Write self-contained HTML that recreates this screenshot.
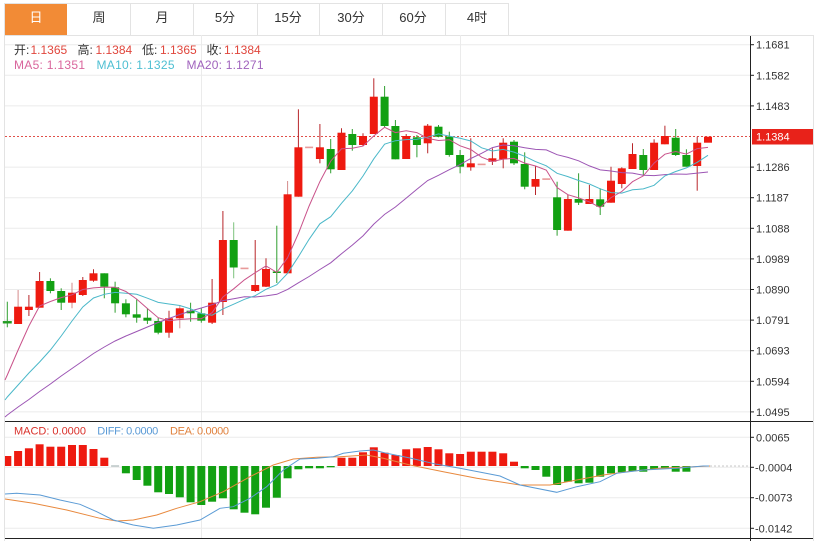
<!DOCTYPE html>
<html><head><meta charset="utf-8"><style>
html,body{margin:0;padding:0;background:#fff;}
svg{display:block;}
text{font-family:"Liberation Sans","Noto Sans CJK SC",sans-serif;}
</style></head><body>
<svg width="822" height="541" viewBox="0 0 822 541" xmlns="http://www.w3.org/2000/svg">
<rect x="0" y="0" width="822" height="541" fill="#fff"/>
<!-- tabs -->
<rect x="5" y="3" width="62" height="32" fill="#f28b36"/>
<g stroke="#e3e3e3" stroke-width="1">
<line x1="5" y1="3.5" x2="508" y2="3.5"/>
<line x1="130.5" y1="3" x2="130.5" y2="35"/>
<line x1="193.5" y1="3" x2="193.5" y2="35"/>
<line x1="257.5" y1="3" x2="257.5" y2="35"/>
<line x1="319.5" y1="3" x2="319.5" y2="35"/>
<line x1="382.5" y1="3" x2="382.5" y2="35"/>
<line x1="445.5" y1="3" x2="445.5" y2="35"/>
<line x1="508.5" y1="3" x2="508.5" y2="35"/>
<line x1="5" y1="35.5" x2="813" y2="35.5"/>
<line x1="4.5" y1="3" x2="4.5" y2="541"/>
<line x1="813.5" y1="35" x2="813.5" y2="541"/>
</g>
<g font-size="13" text-anchor="middle" fill="#333">
<text x="36" y="22" fill="#fff">日</text>
<text x="99" y="22">周</text>
<text x="162" y="22">月</text>
<text x="225" y="22">5分</text>
<text x="288" y="22">15分</text>
<text x="351" y="22">30分</text>
<text x="413" y="22">60分</text>
<text x="477" y="22">4时</text>
</g>
<!-- grid -->
<g stroke="#ebebeb" stroke-width="1">
<line x1="5" y1="44.7" x2="750" y2="44.7"/>
<line x1="5" y1="75.3" x2="750" y2="75.3"/>
<line x1="5" y1="105.9" x2="750" y2="105.9"/>
<line x1="5" y1="167.1" x2="750" y2="167.1"/>
<line x1="5" y1="197.7" x2="750" y2="197.7"/>
<line x1="5" y1="228.3" x2="750" y2="228.3"/>
<line x1="5" y1="258.9" x2="750" y2="258.9"/>
<line x1="5" y1="289.5" x2="750" y2="289.5"/>
<line x1="5" y1="320.1" x2="750" y2="320.1"/>
<line x1="5" y1="350.7" x2="750" y2="350.7"/>
<line x1="5" y1="381.3" x2="750" y2="381.3"/>
<line x1="5" y1="411.9" x2="750" y2="411.9"/>
<line x1="5" y1="437.3" x2="750" y2="437.3"/>
<line x1="5" y1="467.3" x2="750" y2="467.3"/>
<line x1="5" y1="497.7" x2="750" y2="497.7"/>
<line x1="5" y1="528.3" x2="750" y2="528.3"/>
<line x1="201.5" y1="35" x2="201.5" y2="538"/>
<line x1="460.5" y1="35" x2="460.5" y2="538"/>
</g>
<!-- dark frame lines -->
<g stroke="#222" stroke-width="1">
<line x1="5" y1="421.5" x2="813" y2="421.5"/>
<line x1="5" y1="538.5" x2="813" y2="538.5"/>
<line x1="750.5" y1="36" x2="750.5" y2="541"/>
</g>
<!-- last price dotted line -->
<line x1="5" y1="136.5" x2="750" y2="136.5" stroke="#e0504a" stroke-width="1" stroke-dasharray="2,2"/>
<!-- candles -->
<g stroke-width="1">
<g stroke="#2f9e2f" fill="#12a012">
<line x1="7.3" y1="301.7" x2="7.3" y2="327.3"/><rect x="3.3" y="321.5" width="8" height="1.5"/>
<line x1="50.4" y1="278.3" x2="50.4" y2="293.3"/><rect x="46.4" y="281" width="8" height="10" stroke="none"/>
<line x1="61.2" y1="288.3" x2="61.2" y2="310"/><rect x="57.2" y="291" width="8" height="11.7" stroke="none"/>
<line x1="104.3" y1="273.3" x2="104.3" y2="298.3"/><rect x="100.3" y="273.3" width="8" height="13.4" stroke="none"/>
<line x1="115.1" y1="281.7" x2="115.1" y2="312.7"/><rect x="111.1" y="287.3" width="8" height="16" stroke="none"/>
<line x1="125.9" y1="299.3" x2="125.9" y2="317.3"/><rect x="121.9" y="303.3" width="8" height="11" stroke="none"/>
<line x1="136.7" y1="299.3" x2="136.7" y2="322.7"/><rect x="132.7" y="314.3" width="8" height="3.4" stroke="none"/>
<line x1="147.4" y1="308.3" x2="147.4" y2="324"/><rect x="143.4" y="317.7" width="8" height="3" stroke="none"/>
<line x1="158.2" y1="317.7" x2="158.2" y2="334.3"/><rect x="154.2" y="321" width="8" height="11.7" stroke="none"/>
<line x1="190.6" y1="302.7" x2="190.6" y2="321.7"/><rect x="186.6" y="310.7" width="8" height="2.6" stroke="none"/>
<line x1="201.3" y1="308.3" x2="201.3" y2="322.7"/><rect x="197.3" y="313.3" width="8" height="7.4" stroke="none"/>
<line x1="233.7" y1="222.3" x2="233.7" y2="278.3" stroke="#7cc27c"/><rect x="229.7" y="240" width="8" height="27.5" stroke="none"/>
<line x1="276.8" y1="225.7" x2="276.8" y2="283"/><rect x="272.8" y="271.5" width="8" height="1.5" stroke="none"/>
<line x1="330.7" y1="139" x2="330.7" y2="173.3"/><rect x="326.7" y="149" width="8" height="20.3" stroke="none"/>
<line x1="352.3" y1="129" x2="352.3" y2="150.7"/><rect x="348.3" y="134" width="8" height="11" stroke="none"/>
<line x1="384.6" y1="86" x2="384.6" y2="127.3"/><rect x="380.6" y="96.7" width="8" height="29.3" stroke="none"/>
<line x1="395.4" y1="120" x2="395.4" y2="159.3"/><rect x="391.4" y="126" width="8" height="33.3" stroke="none"/>
<line x1="416.9" y1="135" x2="416.9" y2="157.3"/><rect x="412.9" y="137.3" width="8" height="7.7" stroke="none"/>
<line x1="438.5" y1="125" x2="438.5" y2="137.3"/><rect x="434.5" y="126.7" width="8" height="10" stroke="none"/>
<line x1="449.3" y1="131.7" x2="449.3" y2="156.7"/><rect x="445.3" y="136.7" width="8" height="18.3" stroke="none"/>
<line x1="460.1" y1="150" x2="460.1" y2="173.3"/><rect x="456.1" y="155" width="8" height="11.7" stroke="none"/>
<line x1="514" y1="140" x2="514" y2="165"/><rect x="510" y="141.7" width="8" height="21.6" stroke="none"/>
<line x1="524.7" y1="152.3" x2="524.7" y2="189.3"/><rect x="520.7" y="164" width="8" height="22.7" stroke="none"/>
<line x1="557.1" y1="181.7" x2="557.1" y2="235.7"/><rect x="553.1" y="197.3" width="8" height="32.7" stroke="none"/>
<line x1="578.6" y1="173.3" x2="578.6" y2="205"/><rect x="574.6" y="199" width="8" height="3.7" stroke="none"/>
<line x1="600.2" y1="188.3" x2="600.2" y2="215"/><rect x="596.2" y="199.3" width="8" height="7.4" stroke="none"/>
<line x1="643.3" y1="149" x2="643.3" y2="175"/><rect x="639.3" y="155" width="8" height="15" stroke="none"/>
<line x1="675.7" y1="129" x2="675.7" y2="156"/><rect x="671.7" y="137.7" width="8" height="17.3" stroke="none"/>
<line x1="686.4" y1="149.3" x2="686.4" y2="166.7"/><rect x="682.4" y="155" width="8" height="11.7" stroke="none"/>
</g>
<g stroke="#b8262a" fill="#ee1a10">
<line x1="18.1" y1="290" x2="18.1" y2="324" stroke="#d48a8a"/><rect x="14.1" y="306.7" width="8" height="17.3" stroke="none"/>
<line x1="28.9" y1="295" x2="28.9" y2="316"/><rect x="24.9" y="306.7" width="8" height="3.3" stroke="none"/>
<line x1="39.6" y1="272" x2="39.6" y2="307.7"/><rect x="35.6" y="281" width="8" height="26.7" stroke="none"/>
<line x1="72" y1="282.7" x2="72" y2="308.3" stroke="#d48a8a"/><rect x="68" y="292.7" width="8" height="10" stroke="none"/>
<line x1="82.8" y1="277" x2="82.8" y2="296"/><rect x="78.8" y="280" width="8" height="15" stroke="none"/>
<line x1="93.5" y1="269.3" x2="93.5" y2="281.7"/><rect x="89.5" y="273.3" width="8" height="7.4" stroke="none"/>
<line x1="169" y1="310.7" x2="169" y2="337.7"/><rect x="165" y="318.3" width="8" height="14.4" stroke="none"/>
<line x1="179.8" y1="305" x2="179.8" y2="328.3" stroke="#d48a8a"/><rect x="175.8" y="308.3" width="8" height="10" stroke="none"/>
<line x1="212.1" y1="279" x2="212.1" y2="324"/><rect x="208.1" y="302.7" width="8" height="20" stroke="none"/>
<line x1="222.9" y1="211" x2="222.9" y2="315"/><rect x="218.9" y="240" width="8" height="62" stroke="none"/>
<line x1="255.2" y1="240" x2="255.2" y2="292"/><rect x="251.2" y="285" width="8" height="6" stroke="none"/>
<line x1="266" y1="258.3" x2="266" y2="287"/><rect x="262" y="269" width="8" height="17.7" stroke="none"/>
<line x1="287.6" y1="181" x2="287.6" y2="273.3" stroke="#d48a8a"/><rect x="283.6" y="194.3" width="8" height="79" stroke="none"/>
<line x1="298.4" y1="109.3" x2="298.4" y2="196.7"/><rect x="294.4" y="147.3" width="8" height="49.4" stroke="none"/>
<line x1="319.9" y1="124" x2="319.9" y2="163.3"/><rect x="315.9" y="147.3" width="8" height="11.7" stroke="none"/>
<line x1="341.5" y1="128.3" x2="341.5" y2="170"/><rect x="337.5" y="132.7" width="8" height="37.3" stroke="none"/>
<line x1="363" y1="133.3" x2="363" y2="146"/><rect x="359" y="136" width="8" height="9" stroke="none"/>
<line x1="373.8" y1="78.3" x2="373.8" y2="134"/><rect x="369.8" y="96.7" width="8" height="37.3" stroke="none"/>
<line x1="406.2" y1="134" x2="406.2" y2="159"/><rect x="402.2" y="136" width="8" height="23" stroke="none"/>
<line x1="427.7" y1="124" x2="427.7" y2="153.3"/><rect x="423.7" y="125.7" width="8" height="17.6" stroke="none"/>
<line x1="470.8" y1="138.3" x2="470.8" y2="170.7"/><rect x="466.8" y="163.3" width="8" height="4" stroke="none"/>
<line x1="492.4" y1="148.3" x2="492.4" y2="165"/><rect x="488.4" y="158.3" width="8" height="3.4" stroke="none"/>
<line x1="503.2" y1="138.3" x2="503.2" y2="168.3"/><rect x="499.2" y="142.7" width="8" height="16.6" stroke="none"/>
<line x1="535.5" y1="166" x2="535.5" y2="195"/><rect x="531.5" y="179" width="8" height="7.7" stroke="none"/>
<line x1="567.9" y1="195" x2="567.9" y2="230.7"/><rect x="563.9" y="199" width="8" height="31.7" stroke="none"/>
<line x1="589.4" y1="185" x2="589.4" y2="204"/><rect x="585.4" y="199" width="8" height="5" stroke="none"/>
<line x1="611" y1="166.7" x2="611" y2="202.7"/><rect x="607" y="180.7" width="8" height="22" stroke="none"/>
<line x1="621.8" y1="167.3" x2="621.8" y2="188.3"/><rect x="617.8" y="168.3" width="8" height="15.7" stroke="none"/>
<line x1="632.5" y1="143.3" x2="632.5" y2="169"/><rect x="628.5" y="154" width="8" height="15" stroke="none"/>
<line x1="654.1" y1="139.3" x2="654.1" y2="170"/><rect x="650.1" y="142.7" width="8" height="27.3" stroke="none"/>
<line x1="664.9" y1="125.7" x2="664.9" y2="144.3"/><rect x="660.9" y="136" width="8" height="8.3" stroke="none"/>
<line x1="697.2" y1="136.7" x2="697.2" y2="190.7"/><rect x="693.2" y="142.7" width="8" height="23.3" stroke="none"/>
<rect x="704" y="136.7" width="8" height="6" stroke="none"/>
</g>
<g fill="#e89a9a">
<rect x="240.5" y="267.6" width="8" height="1.6"/>
<rect x="305.1" y="146.6" width="8" height="1.6"/>
<rect x="477.6" y="163.6" width="8" height="1.6"/>
<rect x="542.3" y="178.3" width="8" height="1.6"/>
</g>
</g>
<!-- MA lines -->
<polyline fill="none" stroke="#9c55b4" stroke-width="1" points="5,417 7.3,415 18.1,407 28.9,399.5 39.6,391.5 50.4,384 61.2,376 72,368.5 82.8,361 93.5,353.5 104.3,347 115.1,341 125.9,336 136.7,331.5 147.4,327 158.2,322.5 169,318.5 179.8,314.5 190.6,311 201.3,308 212.1,304.7 222.9,300.6 233.7,298.7 244.5,296.8 255.2,297 266,295.9 276.8,294.3 287.6,289.4 298.4,282.8 309.1,276.5 319.9,269.5 330.7,262.8 341.5,253.7 352.3,245.1 363,235.9 373.8,224.1 384.6,214.4 395.4,207 406.2,198.1 416.9,189.3 427.7,180.5 438.5,175.3 449.3,169.7 460.1,164.6 470.8,158.5 481.6,153.3 492.4,147.6 503.2,145 514,145.8 524.7,147.8 535.5,149.4 546.3,149.9 557.1,154.7 567.9,157.4 578.6,160.8 589.4,165.9 600.2,169.9 611,171 621.8,172.6 632.5,173.1 643.3,175.3 654.1,175.6 664.9,174.6 675.7,174 686.4,174.2 697.2,173.1 708,172"/>
<polyline fill="none" stroke="#4bb8c9" stroke-width="1" points="5,400 7.3,397 18.1,385 28.9,373 39.6,362 50.4,350 61.2,336 72,321 82.8,307 93.5,298 104.3,294.3 115.1,292.4 125.9,293.2 136.7,294.3 147.4,298.2 158.2,302.4 169,304 179.8,305.5 190.6,308.9 201.3,313.6 212.1,315.2 222.9,308.9 233.7,304.2 244.5,299.3 255.2,295.7 266,289.3 276.8,284.7 287.6,273.3 298.4,256.7 309.1,239.3 319.9,223.8 330.7,216.7 341.5,203.3 352.3,190.9 363,176 373.8,158.8 384.6,144.2 395.4,140.7 406.2,139.6 416.9,139.3 427.7,137.2 438.5,133.9 449.3,136.1 460.1,138.3 470.8,141 481.6,147.8 492.4,151 503.2,149.4 514,152.1 524.7,156.3 535.5,161.6 546.3,165.8 557.1,173.3 567.9,176.6 578.6,180.5 589.4,184 600.2,188.8 611,192.6 621.8,193.1 632.5,189.8 643.3,188.9 654.1,185.3 664.9,175.9 675.7,171.5 686.4,167.9 697.2,162.3 708,155.3"/>
<polyline fill="none" stroke="#c9528a" stroke-width="1" points="5,380 7.3,375 18.1,350 28.9,326 39.6,306 50.4,301.5 61.2,297.6 72,294.8 82.8,289.5 93.5,287.9 104.3,287.1 115.1,287.2 125.9,291.5 136.7,299.1 147.4,308.5 158.2,317.7 169,320.7 179.8,319.5 190.6,318.7 201.3,318.7 212.1,312.7 222.9,297 233.7,288.8 244.5,279.8 255.2,272.7 266,266 276.8,272.4 287.6,257.7 298.4,233.5 309.1,206 319.9,181.6 330.7,161.1 341.5,148.8 352.3,148.3 363,146.1 373.8,135.9 384.6,127.3 395.4,132.6 406.2,130.8 416.9,132.6 427.7,138.4 438.5,140.5 449.3,139.7 460.1,145.8 470.8,149.5 481.6,157.2 492.4,161.5 503.2,159.1 514,158.4 524.7,163.1 535.5,166 546.3,170.1 557.1,187.6 567.9,194.7 578.6,197.9 589.4,201.9 600.2,207.5 611,197.6 621.8,191.5 632.5,181.7 643.3,175.9 654.1,163.1 664.9,154.2 675.7,151.5 686.4,154.1 697.2,148.6 708,147.4"/>
<!-- MACD bars -->
<g fill="#ee1a10">
<rect x="5" y="456" width="6.3" height="10"/>
<rect x="14.1" y="451" width="8" height="15"/>
<rect x="24.9" y="448.3" width="8" height="17.7"/>
<rect x="35.6" y="444.3" width="8" height="21.7"/>
<rect x="46.4" y="446.7" width="8" height="19.3"/>
<rect x="57.2" y="446.7" width="8" height="19.3"/>
<rect x="68" y="445" width="8" height="21"/>
<rect x="78.8" y="445" width="8" height="21"/>
<rect x="89.5" y="449" width="8" height="17"/>
<rect x="100.3" y="457.7" width="8" height="8.3"/>
<rect x="337.5" y="457.7" width="8" height="8.3"/>
<rect x="348.3" y="457.7" width="8" height="8.3"/>
<rect x="359" y="452.3" width="8" height="13.7"/>
<rect x="369.8" y="447.3" width="8" height="18.7"/>
<rect x="380.6" y="452.7" width="8" height="13.3"/>
<rect x="391.4" y="455" width="8" height="11"/>
<rect x="402.2" y="449.3" width="8" height="16.7"/>
<rect x="412.9" y="448.3" width="8" height="17.7"/>
<rect x="423.7" y="447" width="8" height="19"/>
<rect x="434.5" y="449.3" width="8" height="16.7"/>
<rect x="445.3" y="453.3" width="8" height="12.7"/>
<rect x="456.1" y="454" width="8" height="12"/>
<rect x="466.8" y="451.7" width="8" height="14.3"/>
<rect x="477.6" y="451.7" width="8" height="14.3"/>
<rect x="488.4" y="451.7" width="8" height="14.3"/>
<rect x="499.2" y="453.3" width="8" height="12.7"/>
<rect x="510" y="461.7" width="8" height="4.3"/>
</g>
<rect x="111.1" y="465.5" width="8" height="1" fill="#9aa"/>
<g fill="#12a012">
<rect x="121.9" y="466" width="8" height="7.3"/>
<rect x="132.7" y="466" width="8" height="14"/>
<rect x="143.4" y="466" width="8" height="19.7"/>
<rect x="154.2" y="466" width="8" height="26.3"/>
<rect x="165" y="466" width="8" height="28"/>
<rect x="175.8" y="466" width="8" height="31.3"/>
<rect x="186.6" y="466" width="8" height="36.3"/>
<rect x="197.3" y="466" width="8" height="39"/>
<rect x="208.1" y="466" width="8" height="35.7"/>
<rect x="218.9" y="466" width="8" height="32.3"/>
<rect x="229.7" y="466" width="8" height="43.3"/>
<rect x="240.5" y="466" width="8" height="46.7"/>
<rect x="251.2" y="466" width="8" height="48.3"/>
<rect x="262" y="466" width="8" height="41.7"/>
<rect x="272.8" y="466" width="8" height="31.7"/>
<rect x="283.6" y="466" width="8" height="12.3"/>
<rect x="294.4" y="466" width="8" height="3.3"/>
<rect x="305.1" y="466" width="8" height="2.3"/>
<rect x="315.9" y="466" width="8" height="2.3"/>
<rect x="326.7" y="466" width="8" height="1.3"/>
<rect x="520.7" y="466" width="8" height="2.3"/>
<rect x="531.5" y="466" width="8" height="4"/>
<rect x="542.3" y="466" width="8" height="10.7"/>
<rect x="553.1" y="466" width="8" height="19"/>
<rect x="563.9" y="466" width="8" height="15.7"/>
<rect x="574.6" y="466" width="8" height="17.3"/>
<rect x="585.4" y="466" width="8" height="16.7"/>
<rect x="596.2" y="466" width="8" height="10.7"/>
<rect x="607" y="466" width="8" height="7.3"/>
<rect x="617.8" y="466" width="8" height="6.3"/>
<rect x="628.5" y="466" width="8" height="5"/>
<rect x="639.3" y="466" width="8" height="5.7"/>
<rect x="650.1" y="466" width="8" height="3"/>
<rect x="660.9" y="466" width="8" height="2.3"/>
<rect x="671.7" y="466" width="8" height="5.7"/>
<rect x="682.4" y="466" width="8" height="5.7"/>
</g>
<line x1="710" y1="466" x2="750" y2="466" stroke="#c8c8c8" stroke-width="1" stroke-dasharray="2,2"/>
<!-- MACD lines -->
<polyline fill="none" stroke="#e8893e" stroke-width="1" points="5,499 33.3,503.3 66.7,510 100,518.3 116.7,521 133.3,520 156.7,515 176.7,508.3 200,501.7 223.3,491.7 250,476.7 273.3,465 293.3,459 316.7,457.3 340,456.7 366.7,455 383.3,458.3 410,465 443.3,471.7 476.7,478.3 520,485 550,485 576.7,480 603.3,475 626.7,471.7 660,468.3 693.3,466.7 710,466"/>
<polyline fill="none" stroke="#5b9bd5" stroke-width="1" points="5,494 16.7,493.3 40,495 60,500 80,504.3 96.7,511.7 113.3,520 133.3,525 153.3,528.3 176.7,525 200,520 220,508.3 233.3,506.7 250,498.3 266.7,486.7 283.3,470 300,459 316.7,458.3 333.3,456.7 343.3,453.3 360,451 373.3,450 386.7,453.3 410,458 436.7,464.3 460,468.3 500,476 520,485 556.7,492.3 576.7,486.7 600,481.7 616.7,473.3 643.3,470 676.7,468.3 703.3,466 709,466"/>
<!-- axis ticks -->
<g stroke="#222" stroke-width="1">
<line x1="750" y1="44.7" x2="754" y2="44.7"/>
<line x1="750" y1="75.3" x2="754" y2="75.3"/>
<line x1="750" y1="105.9" x2="754" y2="105.9"/>
<line x1="750" y1="167.1" x2="754" y2="167.1"/>
<line x1="750" y1="197.7" x2="754" y2="197.7"/>
<line x1="750" y1="228.3" x2="754" y2="228.3"/>
<line x1="750" y1="258.9" x2="754" y2="258.9"/>
<line x1="750" y1="289.5" x2="754" y2="289.5"/>
<line x1="750" y1="320.1" x2="754" y2="320.1"/>
<line x1="750" y1="350.7" x2="754" y2="350.7"/>
<line x1="750" y1="381.3" x2="754" y2="381.3"/>
<line x1="750" y1="411.9" x2="754" y2="411.9"/>
<line x1="750" y1="437.3" x2="754" y2="437.3"/>
<line x1="750" y1="467.3" x2="754" y2="467.3"/>
<line x1="750" y1="497.7" x2="754" y2="497.7"/>
<line x1="750" y1="528.3" x2="754" y2="528.3"/>
</g>
<g font-size="11" fill="#333">
<text x="756" y="48.7">1.1681</text>
<text x="756" y="79.3">1.1582</text>
<text x="756" y="109.9">1.1483</text>
<text x="756" y="171.1">1.1286</text>
<text x="756" y="201.7">1.1187</text>
<text x="756" y="232.3">1.1088</text>
<text x="756" y="262.9">1.0989</text>
<text x="756" y="293.5">1.0890</text>
<text x="756" y="324.1">1.0791</text>
<text x="756" y="354.7">1.0693</text>
<text x="756" y="385.3">1.0594</text>
<text x="756" y="415.9">1.0495</text>
<text x="756" y="441.3">0.0065</text>
<text x="755" y="471.3">-0.0004</text>
<text x="755" y="501.7">-0.0073</text>
<text x="755" y="532.3">-0.0142</text>
</g>
<rect x="752" y="129" width="61" height="15.5" fill="#e8221a"/>
<text x="756" y="140.7" font-size="11" fill="#fff">1.1384</text>
<!-- legends -->
<g font-size="12">
<text x="14" y="54" fill="#333">开:</text><text x="30.5" y="54" fill="#e0463c">1.1365</text>
<text x="77.5" y="54" fill="#333">高:</text><text x="95.5" y="54" fill="#e0463c">1.1384</text>
<text x="142" y="54" fill="#333">低:</text><text x="160" y="54" fill="#e0463c">1.1365</text>
<text x="206.5" y="54" fill="#333">收:</text><text x="224" y="54" fill="#e0463c">1.1384</text>
<text x="14" y="69" fill="#d9659c" textLength="71">MA5: 1.1351</text>
<text x="96.5" y="69" fill="#4dbfd2" textLength="78">MA10: 1.1325</text>
<text x="186.5" y="69" fill="#a063bd" textLength="77">MA20: 1.1271</text>
</g>
<g font-size="11">
<text x="14" y="434.5" fill="#d9302a" textLength="72">MACD: 0.0000</text>
<text x="97.3" y="434.5" fill="#5a9ad6" textLength="61">DIFF: 0.0000</text>
<text x="170" y="434.5" fill="#e0823e" textLength="59">DEA: 0.0000</text>
</g>
</svg>
</body></html>
